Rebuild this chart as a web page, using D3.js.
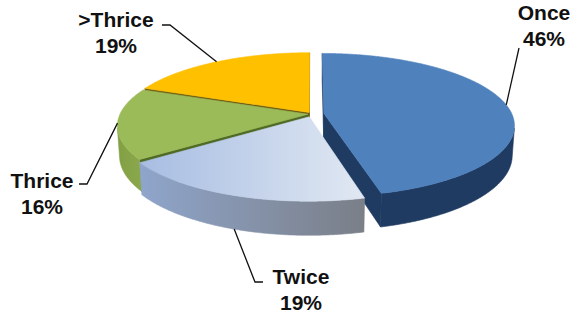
<!DOCTYPE html>
<html>
<head>
<meta charset="utf-8">
<script src="https://cdnjs.cloudflare.com/ajax/libs/d3/7.8.5/d3.min.js"></script>
<style>
  body { margin: 0; background: #fff; }
  text { font-family: "Liberation Sans", Arial, sans-serif; font-weight: bold; font-size: 21px; fill: #111; }
</style>
</head>
<body>
<svg width="580" height="322"></svg>
<script>
// data
var categories = ["Once", "Twice", "Thrice", ">Thrice"];
var values = [46, 19, 16, 19];
var percents = ["46%", "19%", "16%", "19%"];

// look
var topColors  = ["#4f81bd", "url(#twiceTop)", "#9bbb59", "#ffc000"];
var wallColors = ["#1f3b62", "url(#twiceWall)", "url(#greenWall)", "#a07a00"];
var cutColors  = ["#1f3b62", "#7f92b3", "#4f6a24", "#6b5a10"];
var explode = [12, 8, 4, 5];

// 3d setup
var cx = 312, cy = 114, R = 188, H = 32;
var tilt = 21.8 * Math.PI / 180, D = 1085;
var ca = Math.cos(tilt), sa = Math.sin(tilt);
var cam = [0, D * sa, -D * ca];

function project(p) {
    var yp = p[1] * ca + p[2] * sa;
    var zp = p[2] * ca - p[1] * sa;
    var s = D / (D + zp);
    return [cx + p[0] * s, cy - yp * s];
}
function visible(n, p) {
    return n[0] * (cam[0] - p[0]) + n[1] * (cam[1] - p[1]) + n[2] * (cam[2] - p[2]) > 0;
}

var svg = d3.select("svg");
var defs = svg.append("defs");
function grad(id, x1, x2, c1, c2) {
    var g = defs.append("linearGradient").attr("id", id)
        .attr("gradientUnits", "userSpaceOnUse")
        .attr("x1", x1).attr("x2", x2).attr("y1", 0).attr("y2", 0);
    g.append("stop").attr("offset", 0).attr("stop-color", c1);
    g.append("stop").attr("offset", 1).attr("stop-color", c2);
}
grad("twiceTop", 140, 370, "#a7bde2", "#e2e9f3");
grad("twiceWall", 140, 370, "#8fa5cb", "#7a7e86");
grad("greenWall", 110, 150, "#7f9c42", "#8eac4e");

var pie = d3.pie().sort(null).startAngle(0).endAngle(2 * Math.PI);
var arcs = pie(values);
var line = d3.line();

arcs.forEach(function(a, i) {
    var m = (a.startAngle + a.endAngle) / 2;
    a.mid = m;
    a.ox = explode[i] * Math.sin(m);
    a.oz = explode[i] * Math.cos(m);
    a.i = i;
});

function rim(a, t, y) { return [a.ox + R * Math.sin(t), y, a.oz + R * Math.cos(t)]; }
function ctr(a, y) { return [a.ox, y, a.oz]; }

// farthest slice first
var order = arcs.slice().sort(function(p, q) { return Math.cos(q.mid) - Math.cos(p.mid); });

var g = svg.append("g");
function face(pts3, fill) {
    var pts = pts3.map(project);
    g.append("path").attr("d", line(pts) + "Z")
        .attr("fill", fill).attr("stroke", fill).attr("stroke-width", 0.6)
        .attr("stroke-linejoin", "round");
}

order.forEach(function(a) {
    var i = a.i, a0 = a.startAngle, a1 = a.endAngle;
    // cut faces
    var n0 = [-Math.cos(a0), 0, Math.sin(a0)];
    var p0 = rim(a, a0, -H / 2); p0[0] = (p0[0] + a.ox) / 2; p0[2] = (p0[2] + a.oz) / 2;
    if (visible(n0, p0)) face([ctr(a, 0), rim(a, a0, 0), rim(a, a0, -H), ctr(a, -H)], cutColors[i]);
    var n1 = [Math.cos(a1), 0, -Math.sin(a1)];
    var p1 = rim(a, a1, -H / 2); p1[0] = (p1[0] + a.ox) / 2; p1[2] = (p1[2] + a.oz) / 2;
    if (visible(n1, p1)) face([ctr(a, 0), rim(a, a1, 0), rim(a, a1, -H), ctr(a, -H)], cutColors[i]);
    // outer wall
    var steps = Math.ceil((a1 - a0) / (Math.PI / 360));
    var ts = [];
    for (var k = 0; k <= steps; k++) {
        var t = a0 + (a1 - a0) * k / steps;
        if (visible([Math.sin(t), 0, Math.cos(t)], rim(a, t, -H / 2))) ts.push(t);
    }
    if (ts.length > 1) {
        var wall = ts.map(function(t) { return rim(a, t, 0); })
            .concat(ts.slice().reverse().map(function(t) { return rim(a, t, -H); }));
        face(wall, wallColors[i]);
    }
    // top
    var topPts = [ctr(a, 0)];
    for (var k2 = 0; k2 <= steps; k2++) topPts.push(rim(a, a0 + (a1 - a0) * k2 / steps, 0));
    face(topPts, topColors[i]);
});

// labels
var layout = [
    { x: 544, y: 20, bottom: false, elbow: [[519, 48]] },
    { x: 301, y: 284, bottom: true, elbow: [[255, 282], [263, 282]] },
    { x: 42, y: 188, bottom: false, elbow: [[87, 184], [79, 184]] },
    { x: 116, y: 27, bottom: false, elbow: [[170, 25], [162, 25]] }
];

arcs.forEach(function(a, i) {
    var L = layout[i];
    var anchor = project(rim(a, a.mid, L.bottom ? -H : 0));
    svg.append("path").attr("d", line([anchor].concat(L.elbow)))
        .attr("fill", "none").attr("stroke", "#111").attr("stroke-width", 1.3);
    svg.append("text").attr("x", L.x).attr("y", L.y).attr("text-anchor", "middle").text(categories[i]);
    svg.append("text").attr("x", L.x).attr("y", L.y + 26).attr("text-anchor", "middle").text(percents[i]);
});
</script>
</body>
</html>
